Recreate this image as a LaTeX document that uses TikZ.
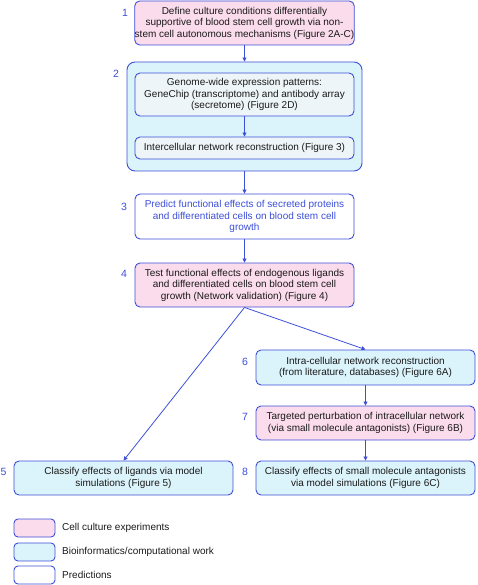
\documentclass[tikz,border=0pt]{standalone}
\usepackage{fontspec}
\setmainfont{Liberation Sans}
\usetikzlibrary{arrows.meta}
\definecolor{bord}{HTML}{3D4FD8}
\definecolor{pinkf}{HTML}{FBDCEC}
\definecolor{bluef}{HTML}{DBF3FB}
\definecolor{innerf}{HTML}{EEF5F8}
\definecolor{txt}{HTML}{1A1A1A}
\tikzset{
  box/.style={draw=bord, line width=0.9pt, rounded corners=5pt, align=center, inner sep=0pt,
    font=\fontsize{10}{11.5}\selectfont, text=txt},
  cell/.style={box, fill=pinkf},
  comp/.style={box, fill=bluef},
  inner/.style={box, fill=innerf},
  pred/.style={box, fill=white, text=bord},
  num/.style={text=bord, font=\fontsize{10.5}{12}\selectfont, inner sep=0pt},
  arr/.style={draw=bord, line width=0.8pt, -{Triangle[length=4pt,width=4pt]}},
  leg/.style={font=\fontsize{10}{11.5}\selectfont, text=txt, anchor=west, inner sep=0pt}
}
\begin{document}
\begin{tikzpicture}[x=1pt,y=-1pt]
\useasboundingbox (0,0) rectangle (477,585);
% box 2 container
\node[comp, rounded corners=8pt, minimum width=235pt, minimum height=109pt] (b2) at (244.5,116.5) {};
\node[cell, minimum width=219pt, minimum height=44pt] (b1) at (244.5,23)
  {Define culture conditions differentially\\supportive of blood stem cell growth via non-\\stem cell autonomous mechanisms (Figure 2A-C)};
\node[inner, minimum width=219pt, minimum height=43pt] (b2a) at (244.5,94.5)
  {Genome-wide expression patterns:\\GeneChip (transcriptome) and antibody array\\(secretome) (Figure 2D)};
\node[inner, minimum width=219pt, minimum height=22pt] (b2b) at (244.5,148)
  {Intercellular network reconstruction (Figure 3)};
\node[pred, minimum width=219pt, minimum height=45pt] (b3) at (244.5,216.5)
  {Predict functional effects of secreted proteins\\and differentiated cells on blood stem cell\\growth};
\node[cell, minimum width=219pt, minimum height=44pt] (b4) at (244.5,285)
  {Test functional effects of endogenous ligands\\and differentiated cells on blood stem cell\\growth (Network validation) (Figure 4)};
\node[comp, minimum width=219pt, minimum height=35pt] (b6) at (365.5,367.5)
  {Intra-cellular network reconstruction\\(from literature, databases) (Figure 6A)};
\node[cell, minimum width=219pt, minimum height=34pt] (b7) at (365.5,423)
  {Targeted perturbation of intracellular network\\(via small molecule antagonists) (Figure 6B)};
\node[comp, minimum width=219pt, minimum height=34pt] (b8) at (365.5,478)
  {Classify effects of small molecule antagonists\\via model simulations (Figure 6C)};
\node[comp, minimum width=219pt, minimum height=34pt] (b5) at (123.5,478)
  {Classify effects of ligands via model\\simulations (Figure 5)};
% numbers
\node[num] (n1) at (125,13) {1};
\node[num] (n2) at (116,74) {2};
\node[num] (n3) at (124,207) {3};
\node[num] (n4) at (124,274) {4};
\node[num] (n6) at (245,362) {6};
\node[num] (n7) at (245,417) {7};
\node[num] (n8) at (245,472) {8};
\node[num] (n5) at (3.5,472) {5};
% arrows
\draw[arr] (b1.south) -- (b2.north);
\draw[arr] (b2a.south) -- (b2b.north);
\draw[arr] (b2.south) -- (b3.north);
\draw[arr] (b3.south) -- (b4.north);
\draw[arr] (b4.south) -- (b5.north);
\draw[arr] (b4.south) -- (b6.north);
\draw[arr] (b6.south) -- (b7.north);
\draw[arr] (b7.south) -- (b8.north);
% legend
\node[cell, rounded corners=4pt, minimum width=41pt, minimum height=18pt] (l1) at (34.5,528) {};
\node[comp, rounded corners=4pt, minimum width=41pt, minimum height=18pt] (l2) at (34.5,552) {};
\node[pred, rounded corners=4pt, minimum width=41pt, minimum height=18pt] (l3) at (34.5,575) {};
\node[leg] (t1) at (62,528) {Cell culture experiments};
\node[leg] (t2) at (62,552) {Bioinformatics/computational work};
\node[leg] (t3) at (62,575) {Predictions};
\end{tikzpicture}
\end{document}
